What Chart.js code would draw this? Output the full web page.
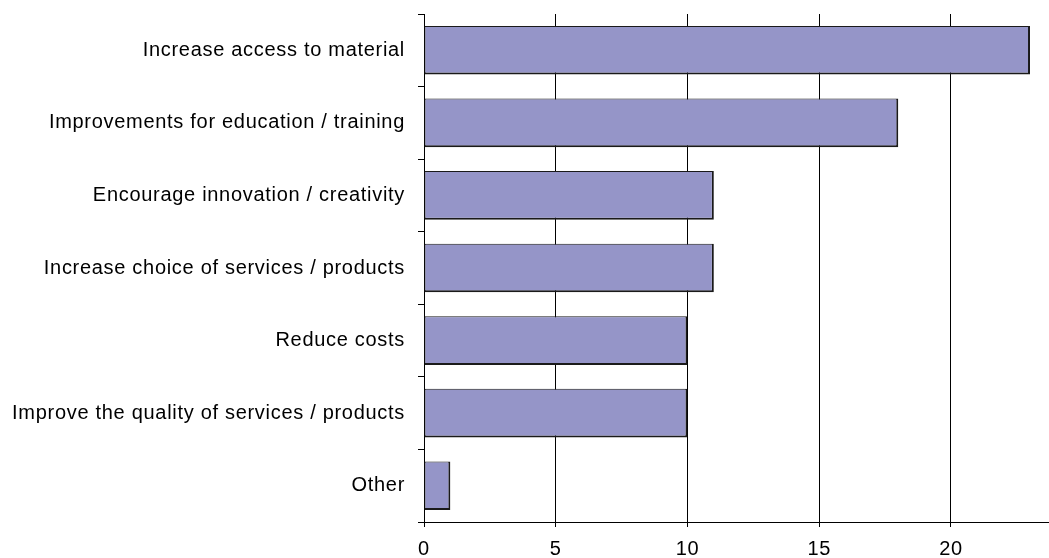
<!DOCTYPE html>
<html>
<head>
<meta charset="utf-8">
<script src="https://cdn.jsdelivr.net/npm/chart.js@4"></script>
<style>
    html, body { margin: 0; padding: 0; background: #fff; }
    #wrap { width: 1049px; height: 558px; }
</style>
</head>
<body>
<div id="wrap"><canvas id="benefitsChart" width="1049" height="558"></canvas></div>
<script>
const categories = [
    'Increase access to material',
    'Improvements for education / training',
    'Encourage innovation / creativity',
    'Increase choice of services / products',
    'Reduce costs',
    'Improve the quality of services / products',
    'Other'
];
const responses = [23, 18, 11, 11, 10, 10, 1];
const xTicks = [0, 5, 10, 15, 20];

// the original text is a little spaced out
const letterSpacingPlugin = {
    id: 'letterSpacing',
    beforeInit: function(chart) { chart.ctx.letterSpacing = '0.7px'; },
    beforeDraw: function(chart) { chart.ctx.letterSpacing = '0.7px'; }
};

document.addEventListener('DOMContentLoaded', function() {
    const ctx = document.getElementById('benefitsChart').getContext('2d');
    new Chart(ctx, {
        type: 'bar',
        data: {
            labels: categories,
            datasets: [{
                data: responses,
                backgroundColor: '#9595c8',
                borderColor: '#1a1a1a',
                borderWidth: { top: 1, left: 1, right: 2, bottom: 2 },
                borderSkipped: false,
                barPercentage: 0.67,
                categoryPercentage: 1.0
            }]
        },
        options: {
            indexAxis: 'y',
            responsive: false,
            animation: false,
            layout: { padding: { top: 14, right: 0, left: 0, bottom: 0 } },
            plugins: {
                legend: { display: false },
                tooltip: { enabled: false }
            },
            scales: {
                x: {
                    min: 0,
                    max: 23.72,
                    afterBuildTicks: function(scale) {
                        scale.ticks = xTicks.map(v => ({ value: v }));
                    },
                    afterFit: function(scale) {
                        scale.height = 36;
                        scale.paddingLeft = 0;
                        scale.paddingRight = 0;
                    },
                    ticks: {
                        color: '#000',
                        font: { family: 'Liberation Sans, Arial', size: 20 },
                        padding: 10,
                        maxRotation: 0
                    },
                    grid: {
                        color: '#000',
                        lineWidth: 1,
                        tickLength: 5
                    },
                    border: { color: '#000', width: 1 }
                },
                y: {
                    afterFit: function(scale) {
                        scale.width = 424;
                        scale.paddingTop = 0;
                        scale.paddingBottom = 0;
                    },
                    ticks: {
                        color: '#000',
                        font: { family: 'Liberation Sans, Arial', size: 20 },
                        padding: 13
                    },
                    grid: {
                        offset: true,
                        drawOnChartArea: false,
                        color: '#000',
                        tickLength: 6
                    },
                    border: { color: '#000', width: 1 }
                }
            }
        },
        plugins: [letterSpacingPlugin]
    });
});
</script>
</body>
</html>
